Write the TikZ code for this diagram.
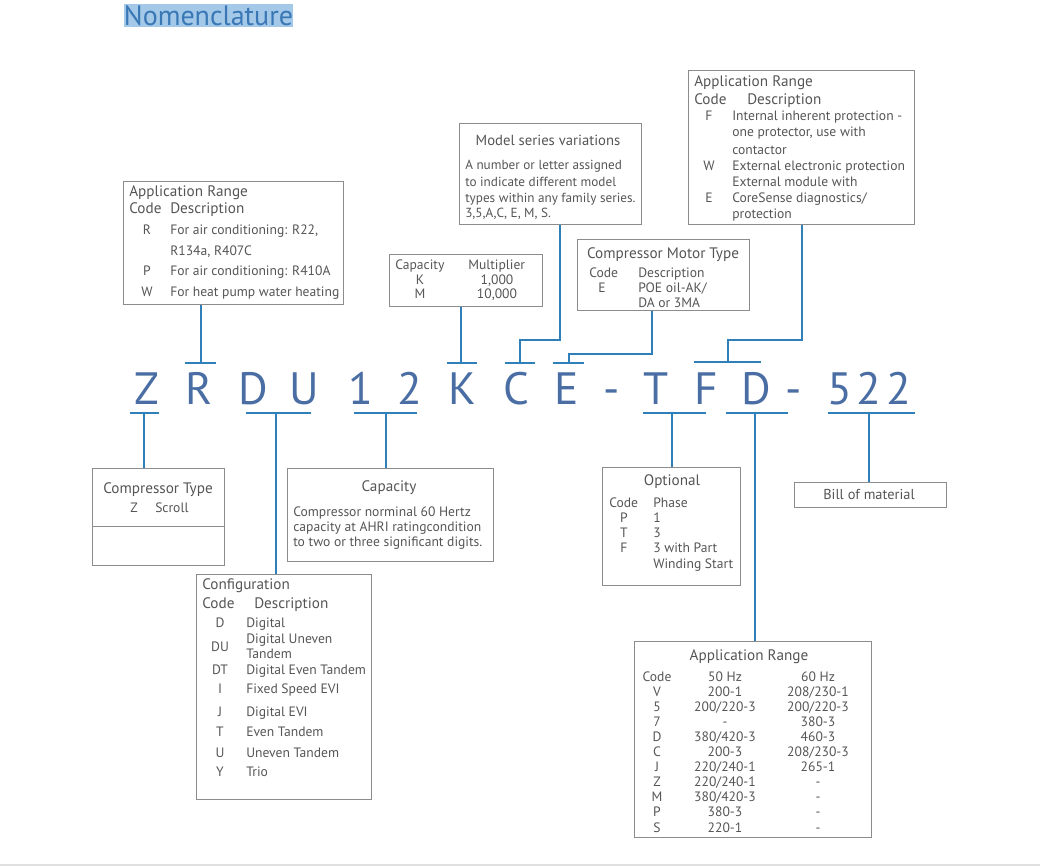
\documentclass[tikz,border=0pt]{standalone}
\usepackage{fontspec}
\setmainfont{PT Sans}
\usetikzlibrary{fit}
\definecolor{txt}{HTML}{555555}
\definecolor{bord}{HTML}{8C8C8C}
\definecolor{conn}{HTML}{2F80B8}
\definecolor{letc}{HTML}{4A6EA3}
\definecolor{hl}{HTML}{A4C8E8}
\definecolor{ttl}{HTML}{3A78B5}
\begin{document}
\begin{tikzpicture}[x=0.75pt,y=-0.75pt,
  box/.style={draw=bord, line width=0.75pt, inner sep=0pt},
  t/.style={text=txt, font=\fontsize{10.2}{12}\selectfont, inner sep=0pt, anchor=base west},
  ts/.style={t, font=\fontsize{9.9}{12}\selectfont},
  tc/.style={t, anchor=base},
  h/.style={t, font=\fontsize{11.4}{13}\selectfont},
  hc/.style={h, anchor=base},
  letter/.style={text=letc, font=\fontsize{34}{36}\selectfont, inner sep=0pt, anchor=base},
  line/.style={draw=conn, line width=1.1pt},
  boxline/.style={draw=bord, line width=0.75pt}]
\useasboundingbox (0,0) rectangle (1040,867);

% title
\node[fill=hl, text=ttl, font=\fontsize{21}{24}\selectfont, minimum width=126.75pt, minimum height=17.25pt, inner sep=0pt] (title) at (208.5,15.5) {Nomenclature};

% ---------- boxes ----------
\node[box, fit={(123,181) (343,304)}] (tl) {};
\node[box, fit={(389,254) (542,306)}] (cm) {};
\node[box, fit={(459,124) (641,224)}] (ms) {};
\node[box, fit={(577,239) (749,310)}] (mt) {};
\node[box, fit={(688,71) (914,224)}] (tr) {};
\node[box, fit={(92,468) (224,565)}] (ct) {};
\node[box, fit={(287,468) (493,561)}] (cap) {};
\node[box, fit={(196,574) (371,799)}] (cfg) {};
\node[box, fit={(602,467) (740,585)}] (opt) {};
\node[box, fit={(794,482) (946,507)}] (bill) {};
\node[box, fit={(634,641) (871,837)}] (ar) {};

% top-left application range
\node[h] (tl1) at (129,196) {Application Range};
\node[h] (tl2) at (129,214) {Code};
\node[h] (tl3) at (170,214) {Description};
\node[tc] (tl4) at (147,234) {R};
\node[t] (tl5) at (170,234) {For air conditioning: R22,};
\node[t] (tl6) at (170,255) {R134a, R407C};
\node[tc] (tl7) at (147,275) {P};
\node[t] (tl8) at (170,275) {For air conditioning: R410A};
\node[tc] (tl9) at (147,296) {W};
\node[t] (tl10) at (170,296) {For heat pump water heating};

% capacity multiplier
\node[t] (cm1) at (395,269) {Capacity};
\node[t] (cm2) at (468,269) {Multiplier};
\node[tc] (cm3) at (420,284) {K};
\node[tc] (cm4) at (420,298) {M};
\node[tc] (cm5) at (497,284) {1,000};
\node[tc] (cm6) at (497,298) {10,000};

% model series
\node[hc, font=\fontsize{11}{13}\selectfont] (ms1) at (548,146) {Model series variations};
\node[ts] (ms2) at (465,170) {A number or letter assigned};
\node[ts] (ms3) at (465,186) {to indicate different model};
\node[ts] (ms4) at (465,202) {types within any family series.};
\node[ts] (ms5) at (465,218) {3,5,A,C, E, M, S.};

% motor type
\node[hc] (mt1) at (663,258) {Compressor Motor Type};
\node[t] (mt2) at (589,277) {Code};
\node[t] (mt3) at (638,277) {Description};
\node[tc] (mt4) at (602,292) {E};
\node[t] (mt5) at (638,292) {POE oil-AK/};
\node[t] (mt6) at (638,307) {DA or 3MA};

% top-right application range
\node[h] (tr1) at (694,87) {Application Range};
\node[h] (tr2) at (694,104) {Code};
\node[h] (tr3) at (747,104) {Description};
\node[tc] (tr4) at (709,121) {F};
\node[t] (tr5) at (732,121) {Internal inherent protection -};
\node[t] (tr6) at (732,137) {one protector, use with};
\node[t] (tr7) at (732,155) {contactor};
\node[tc] (tr8) at (709,171) {W};
\node[t] (tr9) at (732,171) {External electronic protection};
\node[t] (tr10) at (732,186) {External module with};
\node[tc] (tr11) at (709,202) {E};
\node[t] (tr12) at (732,202) {CoreSense diagnostics/};
\node[t] (tr13) at (732,219) {protection};

% compressor type
\draw[boxline] (ct.west |- 0,526) -- (ct.east |- 0,526);
\node[hc] (ct1) at (158,493) {Compressor Type};
\node[tc] (ct2) at (134,512) {Z};
\node[t] (ct3) at (155,512) {Scroll};

% capacity
\node[hc] (cap1) at (389,491) {Capacity};
\node[t] (cap2) at (293,516) {Compressor norminal 60 Hertz};
\node[t] (cap3) at (293,531) {capacity at AHRI ratingcondition};
\node[t] (cap4) at (293,546) {to two or three significant digits.};

% configuration
\node[h] (cf1) at (202,589) {Configuration};
\node[h] (cf2) at (202,608) {Code};
\node[h] (cf3) at (254,608) {Description};
\node[tc] (cf4) at (220,627) {D};
\node[t] (cf5) at (246,627) {Digital};
\node[tc] (cf6) at (220,651) {DU};
\node[t] (cf7) at (246,643) {Digital Uneven};
\node[t] (cf8) at (246,658) {Tandem};
\node[tc] (cf9) at (220,674) {DT};
\node[t] (cf10) at (246,674) {Digital Even Tandem};
\node[tc] (cf11) at (220,693) {I};
\node[t] (cf12) at (246,693) {Fixed Speed EVI};
\node[tc] (cf13) at (220,716) {J};
\node[t] (cf14) at (246,716) {Digital EVI};
\node[tc] (cf15) at (220,736) {T};
\node[t] (cf16) at (246,736) {Even Tandem};
\node[tc] (cf17) at (220,757) {U};
\node[t] (cf18) at (246,757) {Uneven Tandem};
\node[tc] (cf19) at (220,776) {Y};
\node[t] (cf20) at (246,776) {Trio};

% optional
\node[hc] (op1) at (672,485) {Optional};
\node[t] (op2) at (609,507) {Code};
\node[t] (op3) at (653,507) {Phase};
\node[tc] (op4) at (624,522) {P};
\node[t] (op5) at (653,522) {1};
\node[tc] (op6) at (624,537) {T};
\node[t] (op7) at (653,537) {3};
\node[tc] (op8) at (624,552) {F};
\node[t] (op9) at (653,552) {3 with Part};
\node[t] (op10) at (653,568) {Winding Start};

% bill of material
\node[tc, font=\fontsize{10.8}{12}\selectfont] (bm1) at (869,499) {Bill of material};

% bottom application range
\node[hc] (ar0) at (749,660) {Application Range};
\foreach \c/\a/\b [count=\i] in {Code/50 Hz/60 Hz, V/200-1/208\slash 230-1, 5/200\slash 220-3/200\slash 220-3, 7/-/380-3, D/380\slash 420-3/460-3, C/200-3/208\slash 230-3, J/220\slash 240-1/265-1, Z/220\slash 240-1/-, M/380\slash 420-3/-, P/380-3/-, S/220-1/-}{
  \pgfmathsetmacro{\yy}{681+15.1*(\i-1)}
  \node[tc] (arc\i) at (657,\yy) {\c};
  \node[tc] (ara\i) at (725,\yy) {\a};
  \node[tc] (arb\i) at (818,\yy) {\b};
}

% ---------- code letters ----------
\foreach \l/\x [count=\i] in {Z/147, R/199, D/253, U/304, 1/361, 2/410, K/462, C/516, E/567, -/612, T/656, F/706, D/756, -/794, 5/840, 2/869, 2/899}{
  \node[letter] (L\i) at (\x,404) {\l};
}

% ---------- upper connectors ----------
\coordinate (uR) at (201,363);
\coordinate (uK) at (461,363);
\coordinate (uC) at (520,363);
\coordinate (uE) at (569,363);
\coordinate (uTF) at (728,362);
\draw[line] (185,363) -- (216,363);
\draw[line] (447,363) -- (477,363);
\draw[line] (505,363) -- (535,363);
\draw[line] (553,363) -- (584,363);
\draw[line] (694,362) -- (761,362);
\draw[line] (uR) -- (tl.south -| uR);
\draw[line] (uK) -- (cm.south -| uK);
\draw[line] (uC) -- ++(0,-23) -| (ms.south -| 560,0);
\draw[line] (uE) -- ++(0,-9) -| (mt.south -| 652,0);
\draw[line] (uTF) -- ++(0,-22) -| (tr.south -| 802,0);

% ---------- lower connectors ----------
\coordinate (dZ) at (144,413);
\coordinate (dDU) at (276,413);
\coordinate (d12) at (386,413);
\coordinate (dTF) at (672,413);
\coordinate (dD) at (755,413);
\coordinate (d522) at (869,413);
\draw[line] (130,413) -- (159,413);
\draw[line] (246,413) -- (311,413);
\draw[line] (354,413) -- (417,413);
\draw[line] (643,413) -- (706,413);
\draw[line] (726,413) -- (788,413);
\draw[line] (828,413) -- (915,413);
\draw[line] (dZ) -- (ct.north -| dZ);
\draw[line] (dDU) -- (cfg.north -| dDU);
\draw[line] (d12) -- (cap.north -| d12);
\draw[line] (dTF) -- (opt.north -| dTF);
\draw[line] (dD) -- (ar.north -| dD);
\draw[line] (d522) -- (bill.north -| d522);

% page edge rule
\draw[black!12, line width=1pt] (0,865) -- (1040,865);
\end{tikzpicture}
\end{document}
